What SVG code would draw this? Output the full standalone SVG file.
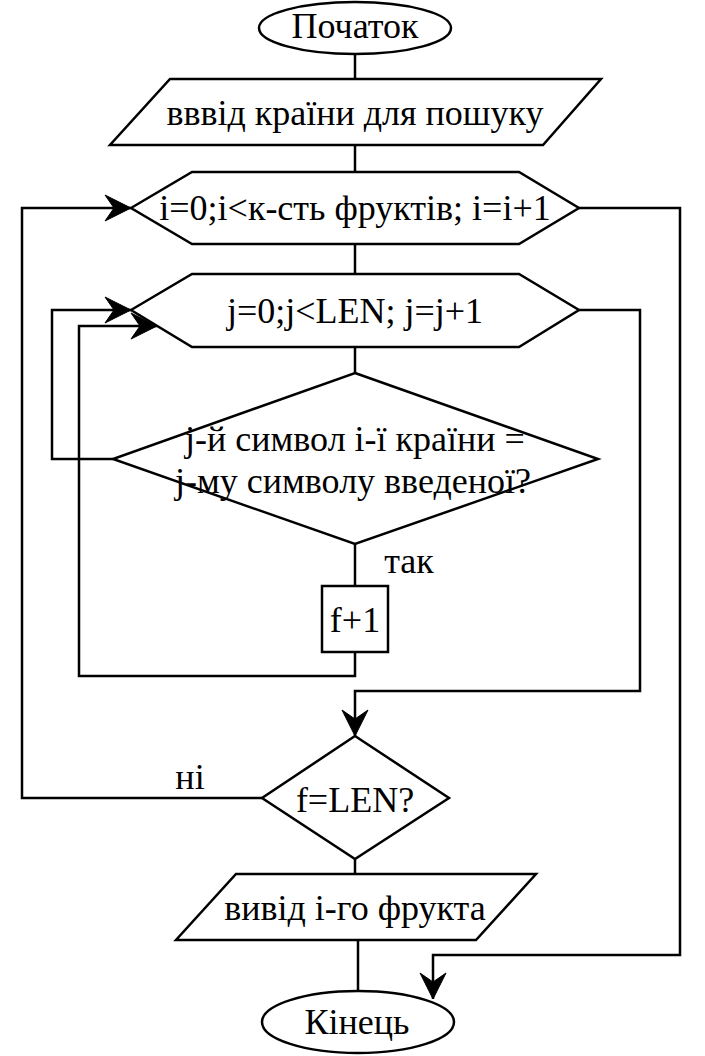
<svg xmlns="http://www.w3.org/2000/svg" width="705" height="1056" viewBox="0 0 705 1056">
<defs>
<style>
.s{fill:#fff;stroke:#000;stroke-width:2.5}
.c{fill:none;stroke:#000;stroke-width:2.5}
text{font-family:"Liberation Serif","Times New Roman",serif;font-size:36px;fill:#000;text-anchor:middle}
</style>
<marker id="a" markerUnits="userSpaceOnUse" markerWidth="30" markerHeight="30" viewBox="-28 -14 30 28" refX="0" refY="0" orient="auto">
<path d="M0,0 L-26,-13 L-17,0 L-26,13 Z" fill="#000" stroke="#000" stroke-width="1"/>
</marker>
</defs>
<g id="connectors">
<path class="c" d="M355,55 V79"/>
<path class="c" d="M355,145 V172"/>
<path class="c" d="M355,244 V274"/>
<path class="c" d="M355,347 V373"/>
<path class="c" d="M355,544 V586"/>
<path class="c" d="M355,652 V676 H79 V326 H157" marker-end="url(#a)"/>
<path class="c" d="M113,459 H52 V310 H131" marker-end="url(#a)"/>
<path class="c" d="M262,798 H22 V208 H131" marker-end="url(#a)"/>
<path class="c" d="M579,310 H640 V691 H355 V736" marker-end="url(#a)"/>
<path class="c" d="M579,208 H680 V955 H433 V999" marker-end="url(#a)"/>
<path class="c" d="M355,859 V874"/>
<path class="c" d="M358,940 V991"/>
<text x="409" y="573">так</text>
<text x="190" y="789">ні</text>
</g>
<g id="start">
<ellipse class="s" cx="355" cy="28" rx="96" ry="26"/>
<text x="355" y="38">Початок</text>
</g>
<g id="input">
<polygon class="s" points="170,79 601,79 543,145 110,145"/>
<text x="355" y="125">вввід країни для пошуку</text>
</g>
<g id="loop-i">
<polygon class="s" points="131,208 192,172 519,172 579,208 519,244 192,244"/>
<text x="355" y="220">i=0;i&lt;к-сть фруктів; i=i+1</text>
</g>
<g id="loop-j">
<polygon class="s" points="131,310 192,274 519,274 579,310 519,347 192,347"/>
<text x="355" y="323">j=0;j&lt;LEN; j=j+1</text>
</g>
<g id="cond1">
<polygon class="s" points="355,373 598,459 355,544 113,459"/>
<text x="355" y="451">j-й символ і-ї країни =</text>
<text x="353" y="493">j-му символу введеної?</text>
</g>
<g id="inc">
<rect class="s" x="322" y="586" width="66" height="66"/>
<text x="355" y="632">f+1</text>
</g>
<g id="cond2">
<polygon class="s" points="355,736 449,798 355,859 262,798"/>
<text x="355" y="812">f=LEN?</text>
</g>
<g id="output">
<polygon class="s" points="236,874 536,874 476,940 176,940"/>
<text x="355" y="920">вивід і-го фрукта</text>
</g>
<g id="end">
<ellipse class="s" cx="358" cy="1022" rx="96" ry="31"/>
<text x="357" y="1034">Кінець</text>
</g>
</svg>
